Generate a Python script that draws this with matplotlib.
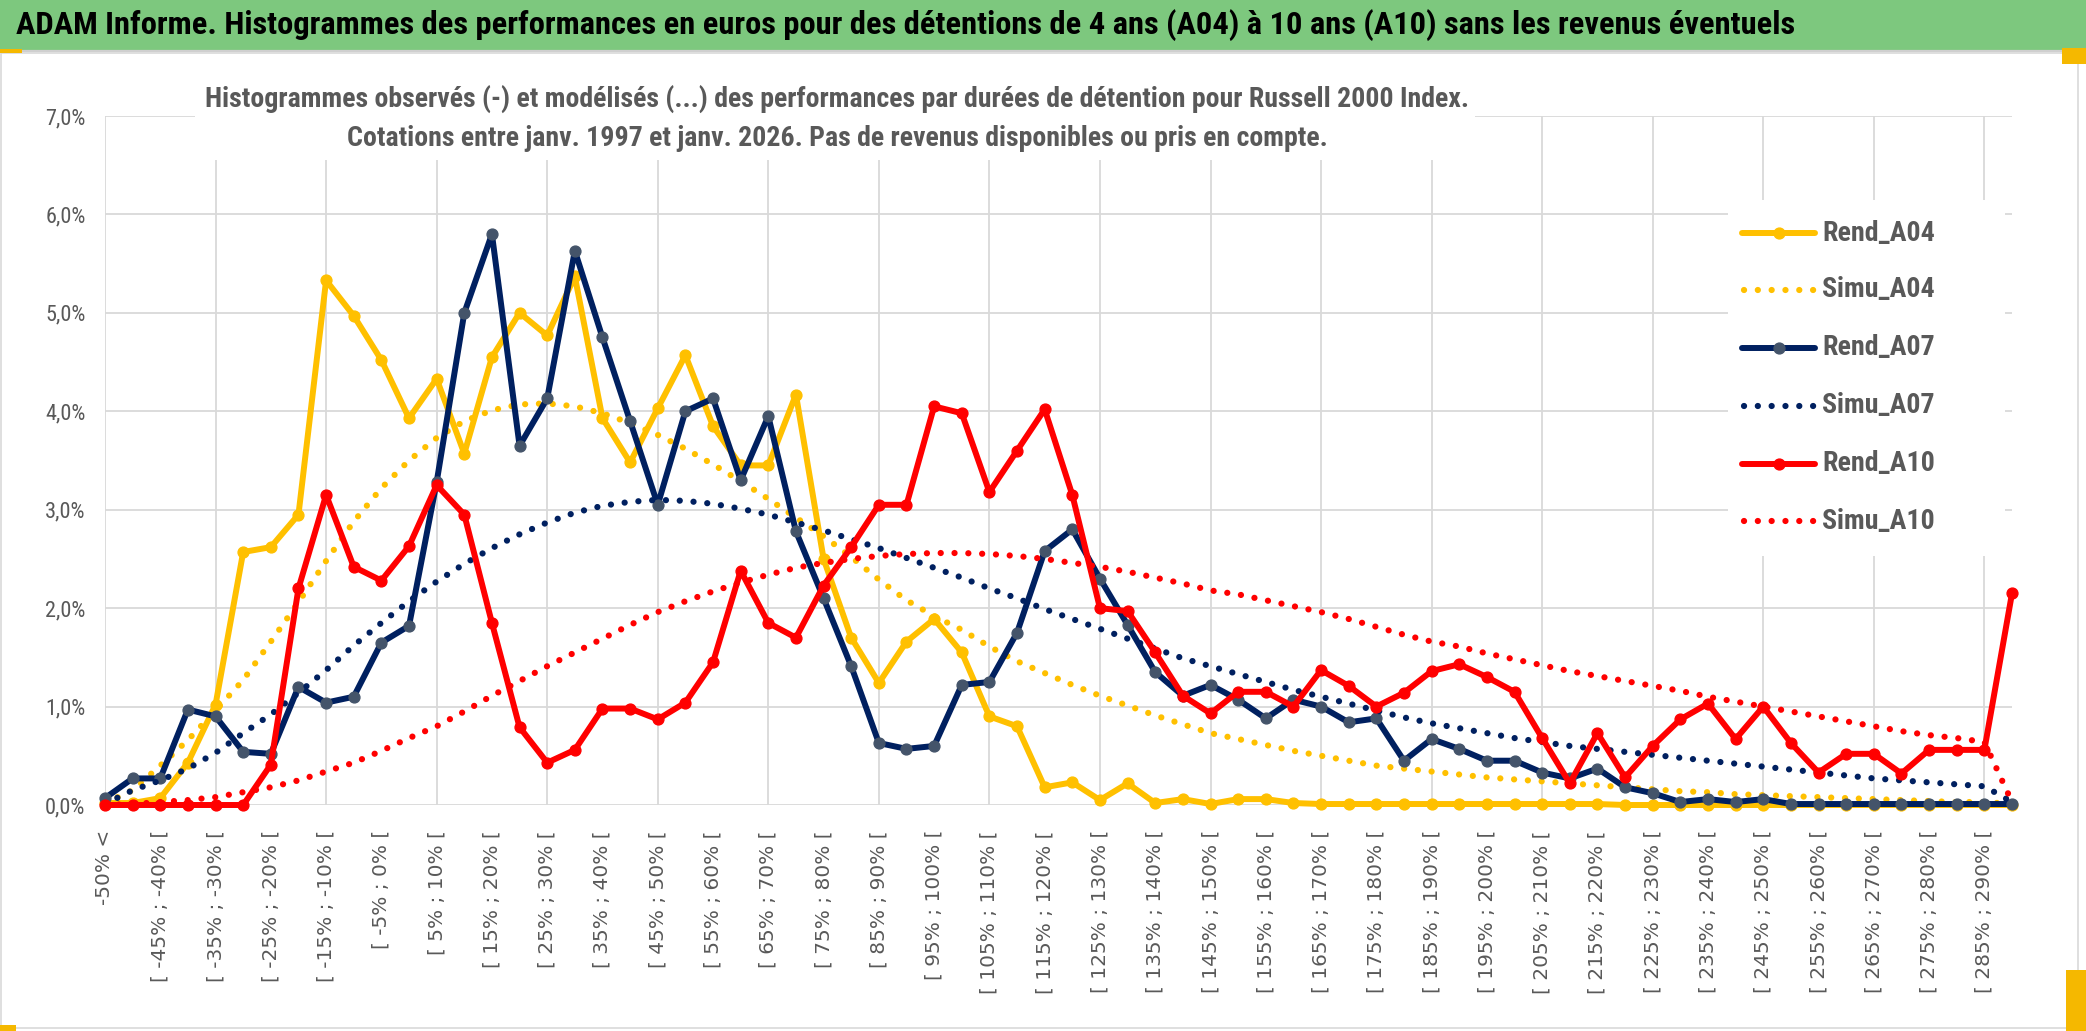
import matplotlib
matplotlib.use("Agg")
import matplotlib.pyplot as plt
from matplotlib import font_manager as fm
from matplotlib.lines import Line2D
from matplotlib.patches import Rectangle

# ---------------- data (values in %) ----------------
categories = ["-50% <"] + [f"[ {a}% ; {a + 5}% [" for a in range(-50, 290, 5)] + ["290% <"]
y_ticks = [0, 1, 2, 3, 4, 5, 6, 7]
y_tick_labels = ["0,0%", "1,0%", "2,0%", "3,0%", "4,0%", "5,0%", "6,0%", "7,0%"]

rend_a04 = [0.02, 0.02, 0.07, 0.43, 1.02, 2.57, 2.62, 2.95, 5.33, 4.97,
            4.52, 3.93, 4.33, 3.57, 4.55, 5.00, 4.77, 5.37, 3.93, 3.48,
            4.03, 4.57, 3.85, 3.45, 3.45, 4.17, 2.50, 1.70, 1.24, 1.66,
            1.89, 1.55, 0.90, 0.80, 0.18, 0.23, 0.05, 0.22, 0.02, 0.06,
            0.01, 0.06, 0.06, 0.02, 0.01, 0.01, 0.01, 0.01, 0.01, 0.01,
            0.01, 0.01, 0.01, 0.01, 0.01, 0.00, 0.00, 0.00, 0.00, 0.00,
            0.00, 0.00, 0.00, 0.00, 0.00, 0.00, 0.00, 0.00, 0.00, 0.00]
simu_a04 = [0.02, 0.15, 0.40, 0.66, 0.96, 1.27, 1.66, 2.06, 2.48, 2.88,
            3.22, 3.50, 3.73, 3.90, 4.01, 4.07, 4.08, 4.05, 3.98, 3.88,
            3.76, 3.62, 3.46, 3.29, 3.11, 2.92, 2.73, 2.52, 2.29, 2.08,
            1.92, 1.78, 1.61, 1.46, 1.34, 1.22, 1.11, 1.01, 0.91, 0.82,
            0.73, 0.67, 0.61, 0.55, 0.50, 0.45, 0.40, 0.37, 0.34, 0.31,
            0.28, 0.26, 0.24, 0.22, 0.20, 0.18, 0.16, 0.14, 0.13, 0.11,
            0.10, 0.09, 0.08, 0.07, 0.06, 0.05, 0.04, 0.03, 0.03, 0.01]
rend_a07 = [0.07, 0.27, 0.27, 0.97, 0.90, 0.54, 0.52, 1.20, 1.04, 1.10,
            1.65, 1.82, 3.28, 5.00, 5.80, 3.65, 4.13, 5.63, 4.75, 3.90,
            3.05, 4.00, 4.13, 3.30, 3.95, 2.78, 2.10, 1.41, 0.63, 0.57,
            0.60, 1.22, 1.25, 1.75, 2.58, 2.80, 2.30, 1.83, 1.35, 1.11,
            1.22, 1.07, 0.88, 1.07, 1.00, 0.84, 0.88, 0.45, 0.67, 0.57,
            0.45, 0.45, 0.33, 0.27, 0.37, 0.18, 0.12, 0.03, 0.06, 0.03,
            0.06, 0.01, 0.01, 0.01, 0.01, 0.01, 0.01, 0.01, 0.01, 0.01]
simu_a07 = [0.01, 0.15, 0.25, 0.37, 0.53, 0.73, 0.92, 1.14, 1.37, 1.62,
            1.85, 2.07, 2.27, 2.45, 2.61, 2.75, 2.87, 2.97, 3.04, 3.08,
            3.10, 3.09, 3.06, 3.01, 2.95, 2.87, 2.79, 2.70, 2.61, 2.51,
            2.41, 2.31, 2.20, 2.10, 1.99, 1.89, 1.79, 1.69, 1.59, 1.49,
            1.41, 1.33, 1.25, 1.17, 1.10, 1.03, 0.96, 0.89, 0.83, 0.78,
            0.73, 0.68, 0.64, 0.60, 0.57, 0.54, 0.51, 0.48, 0.45, 0.42,
            0.39, 0.36, 0.33, 0.30, 0.27, 0.25, 0.23, 0.21, 0.19, 0.03]
rend_a10 = [0.00, 0.00, 0.00, 0.00, 0.00, 0.00, 0.41, 2.20, 3.15, 2.42,
            2.28, 2.63, 3.25, 2.95, 1.85, 0.79, 0.43, 0.56, 0.98, 0.98,
            0.87, 1.04, 1.45, 2.38, 1.85, 1.70, 2.23, 2.62, 3.05, 3.05,
            4.05, 3.98, 3.18, 3.60, 4.02, 3.15, 2.00, 1.97, 1.55, 1.11,
            0.93, 1.15, 1.15, 1.00, 1.37, 1.21, 1.00, 1.14, 1.36, 1.43,
            1.30, 1.15, 0.68, 0.22, 0.73, 0.28, 0.60, 0.87, 1.03, 0.67,
            1.00, 0.63, 0.33, 0.52, 0.52, 0.32, 0.56, 0.56, 0.56, 2.15]
simu_a10 = [0.00, 0.01, 0.03, 0.05, 0.08, 0.13, 0.18, 0.25, 0.34, 0.43,
            0.55, 0.68, 0.80, 0.95, 1.11, 1.26, 1.41, 1.55, 1.69, 1.83,
            1.96, 2.07, 2.17, 2.26, 2.34, 2.41, 2.46, 2.50, 2.53, 2.55,
            2.56, 2.56, 2.55, 2.53, 2.50, 2.46, 2.42, 2.37, 2.31, 2.25,
            2.18, 2.14, 2.08, 2.02, 1.96, 1.89, 1.81, 1.73, 1.66, 1.61,
            1.54, 1.48, 1.42, 1.36, 1.31, 1.26, 1.21, 1.16, 1.10, 1.05,
            1.00, 0.95, 0.90, 0.85, 0.80, 0.75, 0.71, 0.68, 0.64, 0.03]

series_names = ["Rend_A04", "Simu_A04", "Rend_A07", "Simu_A07", "Rend_A10", "Simu_A10"]

TITLE = ("ADAM Informe. Histogrammes des performances en euros pour des détentions "
         "de 4 ans (A04) à 10 ans (A10) sans les revenus éventuels")
SUB1 = ("Histogrammes observés (-) et modélisés (...) des performances par durées "
        "de détention pour Russell 2000 Index.")
SUB2 = "Cotations entre janv. 1997 et janv. 2026. Pas de revenus disponibles ou pris en compte."

# ---------------- style ----------------
W, H, DPI = 2086, 1031, 100
YEL, NAVY, RED = "#FFC000", "#002060", "#FF0000"
NAVY_MK = "#44546A"
GRID = "#D9D9D9"
TXT = "#595959"
GREEN = "#7DC87E"

names = {f.name for f in fm.fontManager.ttflist}


def pick(*cands):
    for c in cands:
        if c in names:
            return c
    return "DejaVu Sans"


NARROW = pick("Liberation Sans Narrow", "Roboto Condensed", "Open Sans Condensed", "Open Sans")


def fx(px):
    return px / W


def fy(py):
    return 1 - py / H


fig = plt.figure(figsize=(W / DPI, H / DPI), dpi=DPI)
fig.patch.set_facecolor("white")

# title bar + frame
fig.add_artist(Rectangle((0, fy(50)), 1, 50 / H, transform=fig.transFigure,
                         facecolor=GREEN, edgecolor="none", zorder=-5))
fig.add_artist(Line2D([0, 1], [fy(51), fy(51)], transform=fig.transFigure,
                      color="#CFCFCF", lw=1.6, zorder=-4))
fig.add_artist(Rectangle((fx(1), fy(1028)), fx(2078) - fx(1), fy(53) - fy(1028),
                         transform=fig.transFigure, fill=False, edgecolor=GRID,
                         lw=1.2, zorder=-4))

# ---------------- axes ----------------
ax = fig.add_axes([fx(105), fy(805), fx(2012) - fx(105), fy(116) - fy(805)])
ax.set_xlim(0, len(categories) - 1)
ax.set_ylim(0, 7)
for s in ax.spines.values():
    s.set_visible(False)
ax.hlines(y_ticks, 0, len(categories) - 1, colors=GRID, lw=1.3, zorder=0.5)
ax.vlines(range(0, len(categories), 4), 0, 7, colors=GRID, lw=1.3, zorder=0.5)

x = list(range(len(categories)))
DOT = (0, (0.01, 2.2))
LW_SOLID, MS = 4.3, 7.8
solid_kw = dict(lw=LW_SOLID, marker="o", ms=MS, solid_joinstyle="round",
                solid_capstyle="round", clip_on=False)
dot_kw = dict(lw=4.5, linestyle=DOT, dash_capstyle="round", clip_on=False)

ax.plot(x, rend_a04, color=YEL, mfc=YEL, mec=YEL, zorder=3, **solid_kw)
ax.plot(x, simu_a04, color=YEL, zorder=3.1, **dot_kw)
ax.plot(x, rend_a07, color=NAVY, mfc=NAVY_MK, mec=NAVY_MK, zorder=3.2, **solid_kw)
ax.plot(x, simu_a07, color=NAVY, zorder=3.3, **dot_kw)
ax.plot(x, rend_a10, color=RED, mfc=RED, mec=RED, zorder=3.4, **solid_kw)
ax.plot(x, simu_a10, color=RED, zorder=3.5, **dot_kw)

ax.set_xticks(x[::2])
ax.set_xticklabels(categories[::2], rotation=90, ha="center", va="top",
                   fontsize=14.5, color=TXT, family="DejaVu Sans")
ax.tick_params(axis="x", length=0, pad=18)
ax.set_yticks(y_ticks)
ax.set_yticklabels(y_tick_labels, fontsize=16, color=TXT, family=[NARROW, "DejaVu Sans"])
ax.tick_params(axis="y", length=0, pad=14)

# ---------------- subtitle box ----------------
fig.add_artist(Rectangle((fx(195), fy(160)), fx(1475) - fx(195), fy(66) - fy(160),
                         transform=fig.transFigure, facecolor="white",
                         edgecolor="none", zorder=2))

renderer = fig.canvas.get_renderer()


def fit(t, target):
    for _ in range(3):
        bb = t.get_window_extent(renderer)
        t.set_fontsize(t.get_fontsize() * target / bb.width)


t_title = fig.text(fx(16), fy(25), TITLE, ha="left", va="center", color="black",
                   fontweight="bold", family=[NARROW, "DejaVu Sans"], fontsize=24, zorder=5)
fit(t_title, 1780)

t_s1 = fig.text(fx(837), fy(99), SUB1, ha="center", va="center", color=TXT,
                fontweight="bold", family=[NARROW, "DejaVu Sans"], fontsize=18, zorder=5)
fit(t_s1, 1266)
t_s2 = fig.text(fx(837), fy(139), SUB2, ha="center", va="center", color=TXT,
                fontweight="bold", family=[NARROW, "DejaVu Sans"],
                fontsize=t_s1.get_fontsize(), zorder=5)

# ---------------- legend ----------------
fig.add_artist(Rectangle((fx(1728), fy(556)), fx(2005) - fx(1728), fy(200) - fy(556),
                         transform=fig.transFigure, facecolor="white",
                         edgecolor="none", zorder=2))
leg_y = [233, 290, 348, 406, 464, 521]
leg_style = [
    (YEL, YEL, True), (YEL, None, False),
    (NAVY, NAVY_MK, True), (NAVY, None, False),
    (RED, RED, True), (RED, None, False),
]
for name, yy, (col, mk, solid) in zip(series_names, leg_y, leg_style):
    yv = fy(yy)
    if solid:
        fig.add_artist(Line2D([fx(1742), fx(1815)], [yv, yv], transform=fig.transFigure,
                              color=col, lw=LW_SOLID, solid_capstyle="round", zorder=3))
        fig.add_artist(Line2D([fx(1778.5)], [yv], transform=fig.transFigure, marker="o",
                              ms=MS, mfc=mk, mec=mk, lw=0, zorder=3.5))
    else:
        fig.add_artist(Line2D([fx(1744), fx(1815)], [yv, yv], transform=fig.transFigure,
                              color=col, lw=4.5, linestyle=DOT, dash_capstyle="round",
                              zorder=3))
    t = fig.text(fx(1822), yv, name, ha="left", va="center", color=TXT, fontweight="bold",
                 family=[NARROW, "DejaVu Sans"], fontsize=20, zorder=5)
    if name == "Rend_A04":
        fit(t, 113)
        leg_fs = t.get_fontsize()
    else:
        t.set_fontsize(leg_fs)

# selection handles (Excel)
for (x0, y0, x1, y1) in [(0, 49, 22, 53), (2062, 48, 2086, 64), (2066, 970, 2086, 1031),
                         (0, 1025, 16, 1031)]:
    fig.add_artist(Rectangle((fx(x0), fy(y1)), fx(x1) - fx(x0), fy(y0) - fy(y1),
                             transform=fig.transFigure, facecolor="#F5B800",
                             edgecolor="none", zorder=6))

fig.savefig("out.png", dpi=DPI)
